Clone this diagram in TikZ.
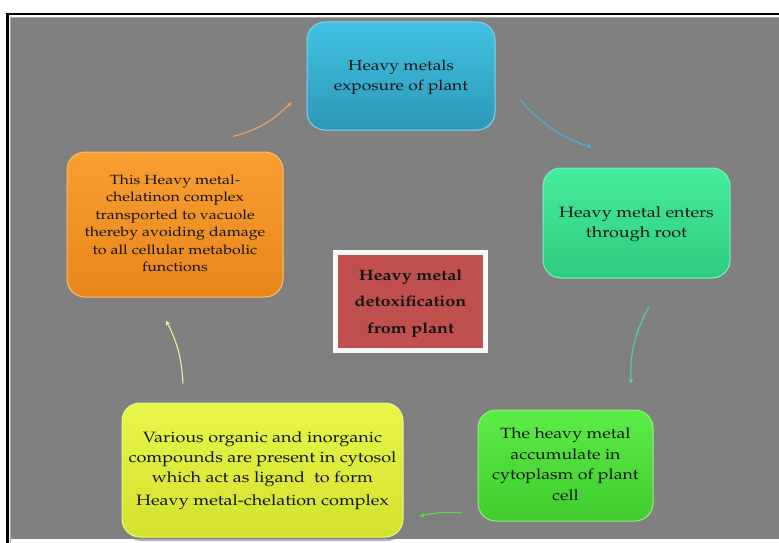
\documentclass[tikz,border=0pt]{standalone}
\usepackage[T1]{fontenc}
\renewcommand{\rmdefault}{ppl}
\usepackage{graphicx}
\usetikzlibrary{shadows,arrows.meta,calc}
\definecolor{bgray}{HTML}{808080}
\definecolor{bluetop}{HTML}{42C2E3}
\definecolor{bluebot}{HTML}{2D98B8}
\definecolor{tealtop}{HTML}{44EC9C}
\definecolor{tealbot}{HTML}{2FCB80}
\definecolor{greentop}{HTML}{5CEC48}
\definecolor{greenbot}{HTML}{3FCC2C}
\definecolor{yeltop}{HTML}{E8F64A}
\definecolor{yelbot}{HTML}{D2E22C}
\definecolor{orgtop}{HTML}{FA9E32}
\definecolor{orgbot}{HTML}{E8861A}
\definecolor{redfill}{HTML}{C0504D}
\definecolor{txt}{HTML}{141414}
\definecolor{arrorg}{HTML}{F2A060}
\definecolor{arrblue}{HTML}{4AB4D4}
\definecolor{arrteal}{HTML}{42DC92}
\definecolor{arrgreen}{HTML}{58E044}
\definecolor{arryel}{HTML}{E4F4A0}
\newcommand{\boxtext}[3]{\scalebox{1.2}[1]{\fontsize{#1}{#2}\selectfont\begin{tabular}{@{}c@{}}#3\end{tabular}}}
\tikzset{
  x=1pt, y=-1pt,
  cyclebox/.style={rounded corners=18pt, inner sep=0pt, text=txt, align=center,
    drop shadow={opacity=0.6, shadow xshift=1.5pt, shadow yshift=-4pt}},
  cyclearrow/.style={line width=1.1pt, -{Stealth[length=5pt,width=4.5pt]}}
}
\begin{document}
\begin{tikzpicture}
\useasboundingbox (0,0) rectangle (779,543);
\fill[white] (0,0) rectangle (779,543);
% frame
\fill[bgray] (11,18) rectangle (779,539);
\draw[gray!70, line width=0.8pt] (10.5,543) -- (10.5,17.5) -- (779,17.5);
\draw[black, line width=2.6pt] (7.5,543) -- (7.5,14) -- (779,14);

% nodes
\node[cyclebox, minimum width=188pt, minimum height=108pt,
  top color=bluetop, bottom color=bluebot, draw=bluetop!70!white, line width=1pt]
  (b) at (401,76) {\boxtext{14.5}{20}{Heavy metals\\exposure of plant}};
\node[cyclebox, minimum width=187pt, minimum height=110pt,
  top color=tealtop, bottom color=tealbot, draw=tealtop!70!white, line width=1pt]
  (t) at (636.5,223) {\boxtext{15}{20}{Heavy metal enters\\through root}};
\node[cyclebox, minimum width=175pt, minimum height=111pt,
  top color=greentop, bottom color=greenbot, draw=greentop!70!white, line width=1pt]
  (g) at (565.5,465.5) {\boxtext{14.8}{20.5}{The heavy metal\\accumulate in\\cytoplasm of plant\\cell}};
\node[cyclebox, minimum width=281pt, minimum height=134pt,
  top color=yeltop, bottom color=yelbot, draw=yeltop!70!white, line width=1pt]
  (y) at (262.5,470) {\boxtext{15}{20}{Various organic and inorganic\\compounds are present in cytosol\\which act as ligand\ \ to form\\[3pt] Heavy metal-chelation complex}};
\node[cyclebox, minimum width=216pt, minimum height=145pt,
  top color=orgtop, bottom color=orgbot, draw=orgtop!70!white, line width=1pt]
  (o) at (175,224.5) {\boxtext{13.3}{17.5}{This Heavy metal-\\chelatinon complex\\transported to vacuole\\thereby avoiding damage\\to all cellular metabolic\\functions}};
\node[fill=redfill, draw=white!95!gray, line width=5pt, minimum width=150pt,
  minimum height=98pt, inner sep=0pt, text=txt,
  drop shadow={opacity=0.5, shadow xshift=2pt, shadow yshift=-2.5pt}]
  (c) at (410.5,301.5) {\boxtext{15}{26.5}{\bfseries Heavy metal\\\bfseries detoxification\\\bfseries from plant}};

% arrow end points
\coordinate (a1s) at ($(o.north)+(58,-15)$);
\coordinate (a1e) at ($(b.west)+(-15,26)$);
\coordinate (a2s) at ($(b.east)+(25,24)$);
\coordinate (a2e) at ($(t.north)+(-44.5,-20)$);
\coordinate (a3s) at ($(t.south)+(12.5,28)$);
\coordinate (a3e) at ($(g.north)+(65.5,-26)$);
\coordinate (a4s) at ($(g.west)+(-15,47.5)$);
\coordinate (a4e) at ($(y.east)+(16,46)$);
\coordinate (a5s) at ($(y.north)+(-79.5,-19)$);
\coordinate (a5e) at ($(o.south)+(-9,23)$);

\draw[cyclearrow, arrorg] (a1s) to[bend right=15] (a1e);
\draw[cyclearrow, arrblue] (a2s) to[bend right=15] (a2e);
\draw[cyclearrow, arrteal] (a3s) to[bend right=15] (a3e);
\draw[cyclearrow, arrgreen] (a4s) to[bend right=8] (a4e);
\draw[cyclearrow, arryel] (a5s) to[bend right=12] (a5e);
\end{tikzpicture}
\end{document}
